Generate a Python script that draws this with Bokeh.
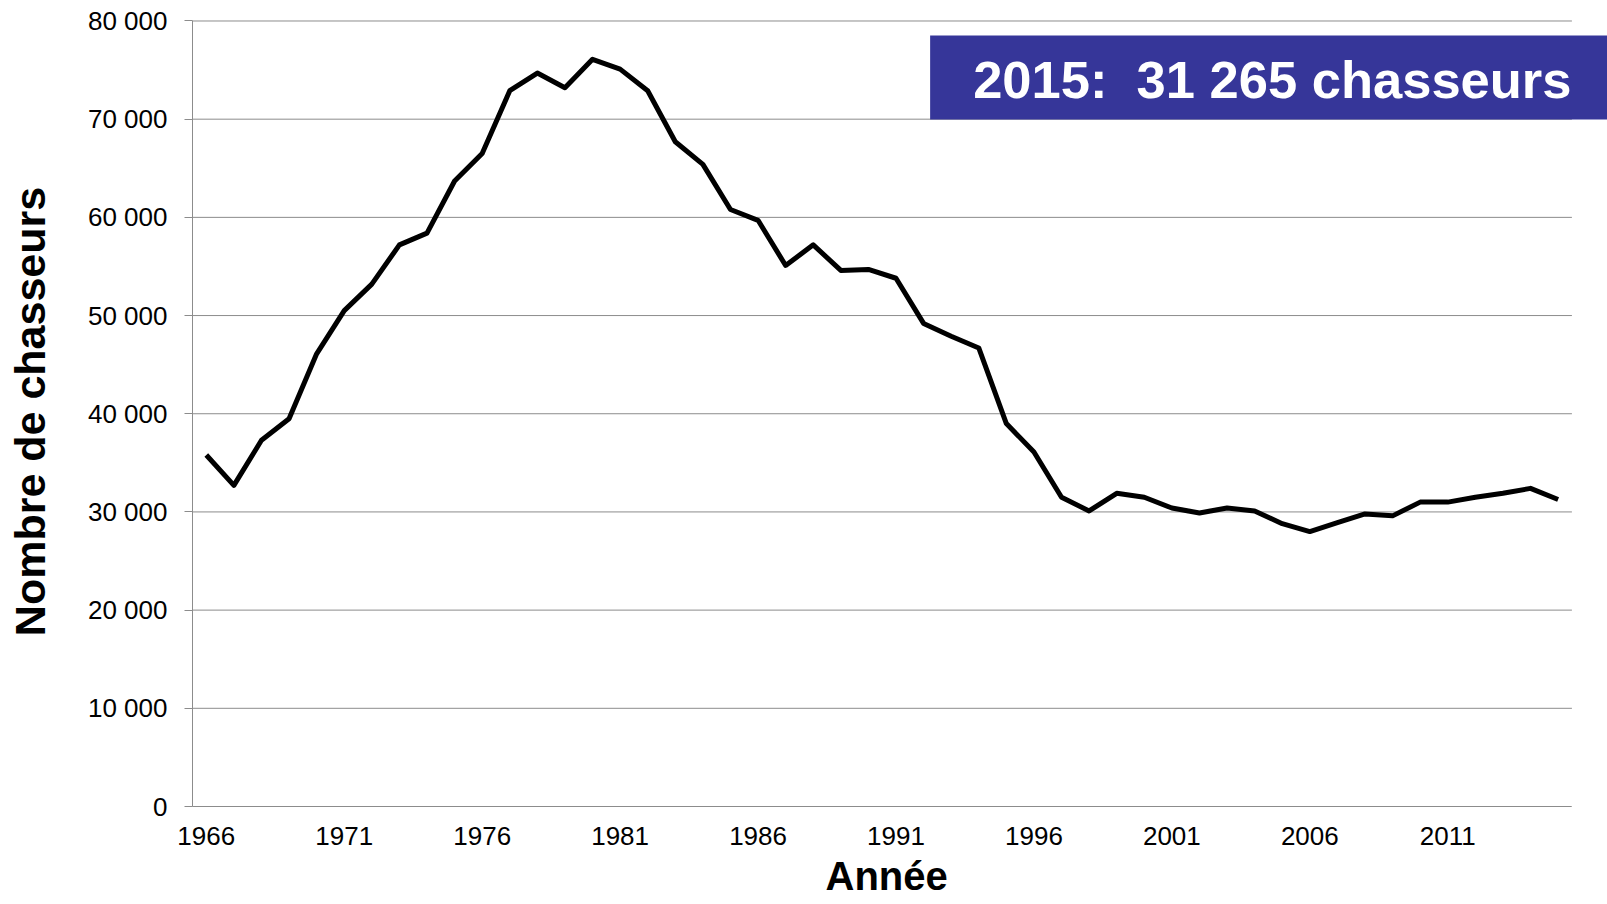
from bokeh.plotting import figure
from bokeh.models import Range1d, FixedTicker, Label, Title
from bokeh.embed import file_html
from bokeh.resources import INLINE

# ---- data -----------------------------------------------------------------
years = list(range(1966, 2016))
hunters = [35800, 32700, 37300, 39500, 46100, 50500, 53200, 57200, 58400, 63700,
           66500, 72900, 74700, 73200, 76100, 75100, 72900, 67700, 65400, 60800,
           59700, 55100, 57200, 54600, 54700, 53800, 49200, 47900, 46700, 39000,
           36100, 31500, 30100, 31900, 31500, 30400, 29900, 30400, 30100, 28800,
           28000, 28900, 29800, 29600, 31000, 31000, 31500, 31900, 32400, 31265]

x_ticks = [1966, 1971, 1976, 1981, 1986, 1991, 1996, 2001, 2006, 2011]
x_tick_labels = ["1966", "1971", "1976", "1981", "1986", "1991", "1996", "2001", "2006", "2011"]
y_ticks = [0, 10000, 20000, 30000, 40000, 50000, 60000, 70000, 80000]
y_tick_labels = ["0", "10 000", "20 000", "30 000", "40 000", "50 000", "60 000", "70 000", "80 000"]

x_title = "Année"
y_title = "Nombre de chasseurs"
callout = "2015:\u00a0 31 265 chasseurs"

FONT = "Liberation Sans"
GRID = "#8c8c8c"
BLUE = "#363699"

# category-style x axis: half a category of padding on each side of the data
x_lo, x_hi = years[0] - 0.5, years[-1] + 0.5
x_extra = 1.29          # room to the right of the plot area for the callout box
y_lo, y_hi = y_ticks[0], y_ticks[-1]
y_extra = 458           # keeps the top grid line fully inside the frame

# ---- figure ---------------------------------------------------------------
p = figure(width=1607, height=904, output_backend="svg", toolbar_location=None,
           x_range=Range1d(x_lo, x_hi + x_extra),
           y_range=Range1d(y_lo, y_hi + y_extra),
           min_border_left=192, min_border_right=0, min_border_top=16, min_border_bottom=98)
p.outline_line_color = None
p.background_fill_color = "white"
p.border_fill_color = "white"
p.xgrid.visible = False
p.ygrid.visible = False

# horizontal grid lines limited to the plotting area
p.segment(x0=[x_lo] * len(y_ticks), x1=[x_hi] * len(y_ticks), y0=y_ticks, y1=y_ticks,
          line_color=GRID, line_width=1)

xa = p.xaxis[0]
ya = p.yaxis[0]
xa.ticker = FixedTicker(ticks=x_ticks)
ya.ticker = FixedTicker(ticks=y_ticks)
xa.major_label_overrides = {t: l for t, l in zip(x_ticks, x_tick_labels)}
ya.major_label_overrides = {t: l for t, l in zip(y_ticks, y_tick_labels)}
xa.bounds = (x_lo, x_hi)
ya.bounds = (y_lo, y_hi)

for ax in (xa, ya):
    ax.axis_line_color = GRID
    ax.axis_line_width = 1
    ax.major_tick_line_color = GRID
    ax.minor_tick_line_color = None
    ax.major_label_text_font = FONT
    ax.major_label_text_font_size = "26px"
    ax.major_label_text_color = "black"

xa.major_tick_out = 0
xa.major_tick_in = 0
xa.major_label_standoff = 20

ya.major_tick_out = 8
ya.major_tick_in = 0
ya.major_label_standoff = 17
ya.axis_label = y_title
ya.axis_label_text_font = FONT
ya.axis_label_text_font_style = "bold"
ya.axis_label_text_color = "black"
ya.axis_label_text_font_size = "43px"
ya.axis_label_standoff = 31

# x-axis title, placed under the tick labels
xt = Title(text=x_title, align="left", offset=633, vertical_align="bottom", standoff=9,
           text_font=FONT, text_font_style="bold", text_font_size="40px", text_color="black")
p.add_layout(xt, "below")

# ---- series ---------------------------------------------------------------
p.line(years, hunters, line_color="black", line_width=5, line_join="round")

# ---- callout box ----------------------------------------------------------
box = Label(x=1415, y=729, x_units="screen", y_units="screen", text=callout,
            text_align="right", text_baseline="middle", text_font=FONT,
            text_font_style="bold", text_font_size="52.5px", text_color="white",
            background_fill_color=BLUE, background_fill_alpha=1.0,
            padding=dict(left=43, right=36, top=14, bottom=11))
p.add_layout(box)

open("out.html", "w").write(file_html(p, INLINE))
